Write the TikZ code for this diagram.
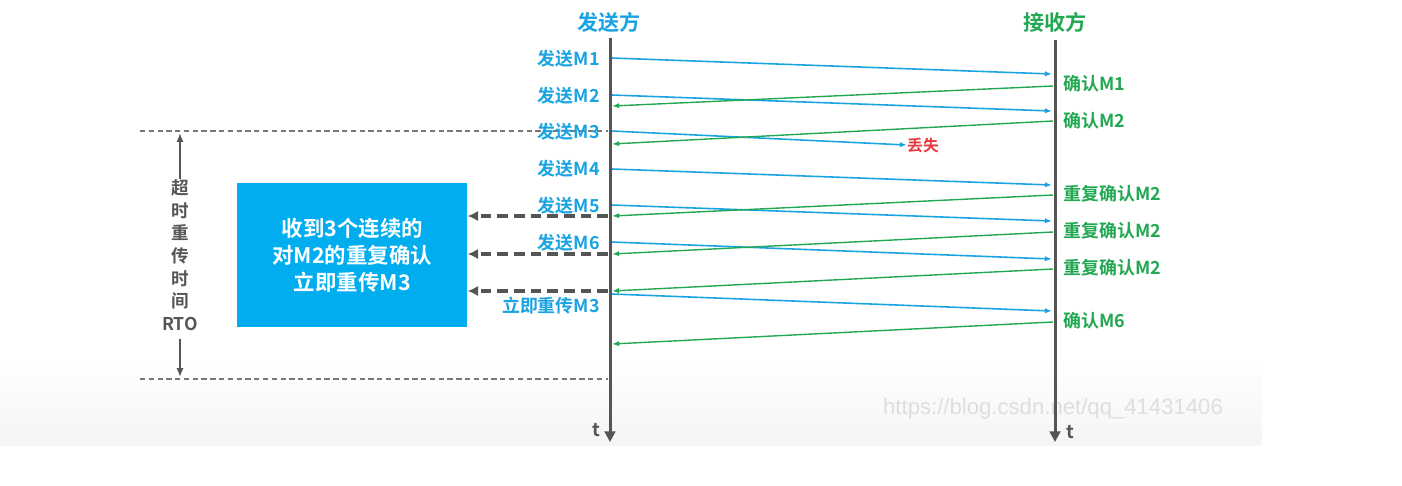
\documentclass[tikz,border=0pt]{standalone}
\usepackage{fontspec}
\setmainfont{Noto Sans CJK SC}[BoldFont={Noto Sans CJK SC Bold}]
\newfontfamily\markfont{Liberation Sans}
\usetikzlibrary{arrows.meta,positioning}
\definecolor{sendblue}{HTML}{1AA3E3}
\definecolor{ackgreen}{HTML}{22A852}
\definecolor{lostred}{HTML}{E83A40}
\definecolor{linegray}{HTML}{555555}
\definecolor{boxblue}{HTML}{00AEEF}

\begin{document}
\begin{tikzpicture}[
  x=0.02cm, y=-0.02cm,
  life/.style={line width=1.7pt, draw=linegray, -{Triangle[length=6pt,width=6pt]}},
  msg/.style={line width=0.9pt, draw=sendblue, -{Latex[length=4pt,width=3pt]}},
  ack/.style={line width=0.8pt, draw=ackgreen, -{Latex[length=4pt,width=3pt]}},
  dup/.style={line width=1.9pt, draw=linegray, dash pattern=on 6pt off 3.5pt, -{Latex[length=6pt,width=6pt]}},
  limit/.style={draw=linegray!80, line width=0.6pt, dash pattern=on 3pt off 2pt},
  rtoarrow/.style={draw=linegray, line width=0.9pt, -{Latex[length=5pt,width=4pt]}},
  sendlabel/.style={font=\bfseries\fontsize{10.2}{12}\selectfont, text=sendblue, anchor=east, inner sep=0pt},
  acklabel/.style={font=\bfseries\fontsize{10.2}{12}\selectfont, text=ackgreen, anchor=west, inner sep=0pt},
  title/.style={font=\bfseries\fontsize{12}{14}\selectfont, inner sep=0pt},
  box/.style={fill=boxblue, text=white, align=center, minimum width=4.6cm, minimum height=2.88cm,
    font=\bfseries\fontsize{12.2}{15.3}\selectfont}
]
\useasboundingbox (0,0) rectangle (1402,485);

% background and watermark
\shade[top color=white, bottom color=black!4] (0,355) rectangle (1262,445);
\node[font=\markfont\fontsize{12.6}{14}\selectfont, text=black!13, inner sep=0pt] (mark) at (1053,409) {https://blog.csdn.net/qq\_41431406};

% Titles
\node[title, text=sendblue] (sender) at (609,22) {发送方};
\node[title, text=ackgreen] (receiver) at (1055,22) {接收方};

% Timeout limits
\coordinate (lim-top) at (140,131);
\coordinate (lim-bot) at (140,379);
\draw[limit] (lim-top) -- (608,131);
\draw[limit] (lim-bot) -- (608,379);

% Lifelines
\coordinate (s-top) at (610,38);
\coordinate (s-bot) at (610,442);
\coordinate (r-top) at (1055,40);
\coordinate (r-bot) at (1055,442);
\draw[life] (s-top) -- (s-bot);
\draw[life] (r-top) -- (r-bot);
\node[font=\bfseries\fontsize{10.5}{12}\selectfont, text=linegray] (t-send) at (596,430) {t};
\node[font=\bfseries\fontsize{10.5}{12}\selectfont, text=linegray] (t-recv) at (1070,432) {t};

% Send labels
\node[sendlabel] (l1) at (600,59) {发送M1};
\node[sendlabel] (l2) at (600,96) {发送M2};
\node[sendlabel] (l3) at (600,132) {发送M3};
\node[sendlabel] (l4) at (600,169) {发送M4};
\node[sendlabel] (l5) at (600,206) {发送M5};
\node[sendlabel] (l6) at (600,243) {发送M6};
\node[sendlabel] (l7) at (600,306) {立即重传M3};

% Ack labels
\node[acklabel] (a1) at (1063,84) {确认M1};
\node[acklabel] (a2) at (1063,121) {确认M2};
\node[acklabel] (a3) at (1063,194) {重复确认M2};
\node[acklabel] (a4) at (1063,231) {重复确认M2};
\node[acklabel] (a5) at (1063,268) {重复确认M2};
\node[acklabel] (a6) at (1063,321) {确认M6};

% Message ends
\coordinate (m1-s) at (612,58);  \coordinate (m1-r) at (1052,74);
\coordinate (m2-s) at (612,95);  \coordinate (m2-r) at (1052,111);
\coordinate (m3-s) at (612,131);
\coordinate (m4-s) at (612,169); \coordinate (m4-r) at (1052,185);
\coordinate (m5-s) at (612,205); \coordinate (m5-r) at (1052,221);
\coordinate (m6-s) at (612,242); \coordinate (m6-r) at (1052,259);
\coordinate (m7-s) at (612,294); \coordinate (m7-r) at (1052,311);
\node[font=\bfseries\fontsize{9}{10}\selectfont, text=lostred, inner sep=0pt] (lost) at (923,145) {丢失};

% Ack ends
\coordinate (k1-r) at (1053,86);  \coordinate (k1-s) at (612,106);
\coordinate (k2-r) at (1053,121); \coordinate (k2-s) at (612,144);
\coordinate (k3-r) at (1053,195); \coordinate (k3-s) at (612,216);
\coordinate (k4-r) at (1053,232); \coordinate (k4-s) at (612,254);
\coordinate (k5-r) at (1053,269); \coordinate (k5-s) at (612,291);
\coordinate (k6-r) at (1053,322); \coordinate (k6-s) at (612,344);

% Messages
\draw[msg] (m1-s) -- (m1-r);
\draw[msg] (m2-s) -- (m2-r);
\draw[msg] (m3-s) -- (lost.west);
\draw[msg] (m4-s) -- (m4-r);
\draw[msg] (m5-s) -- (m5-r);
\draw[msg] (m6-s) -- (m6-r);
\draw[msg] (m7-s) -- (m7-r);

% Acks
\draw[ack] (k1-r) -- (k1-s);
\draw[ack] (k2-r) -- (k2-s);
\draw[ack] (k3-r) -- (k3-s);
\draw[ack] (k4-r) -- (k4-s);
\draw[ack] (k5-r) -- (k5-s);
\draw[ack] (k6-r) -- (k6-s);

% Fast retransmit box
\node[box, anchor=north west] (fast) at (237,183) {收到3个连续的\\对M2的重复确认\\立即重传M3};
\coordinate (d1) at (608,216);
\coordinate (d2) at (608,254);
\coordinate (d3) at (608,291);
\draw[dup] (d1) -- (d1 -| fast.east);
\draw[dup] (d2) -- (d2 -| fast.east);
\draw[dup] (d3) -- (d3 -| fast.east);

% RTO
\node[font=\bfseries\fontsize{10}{12.9}\selectfont, text=linegray, align=center, inner sep=0pt] (rto) at (180,255) {超\\时\\重\\传\\时\\间\\RTO};
\coordinate (rto-top) at (180,133);
\coordinate (rto-bot) at (180,377);
\draw[rtoarrow] ([yshift=-0.1cm]rto.north) ++(0,-5) -- (rto-top);
\draw[rtoarrow] (rto.south) ++(0,8) -- (rto-bot);

\end{tikzpicture}
\end{document}
